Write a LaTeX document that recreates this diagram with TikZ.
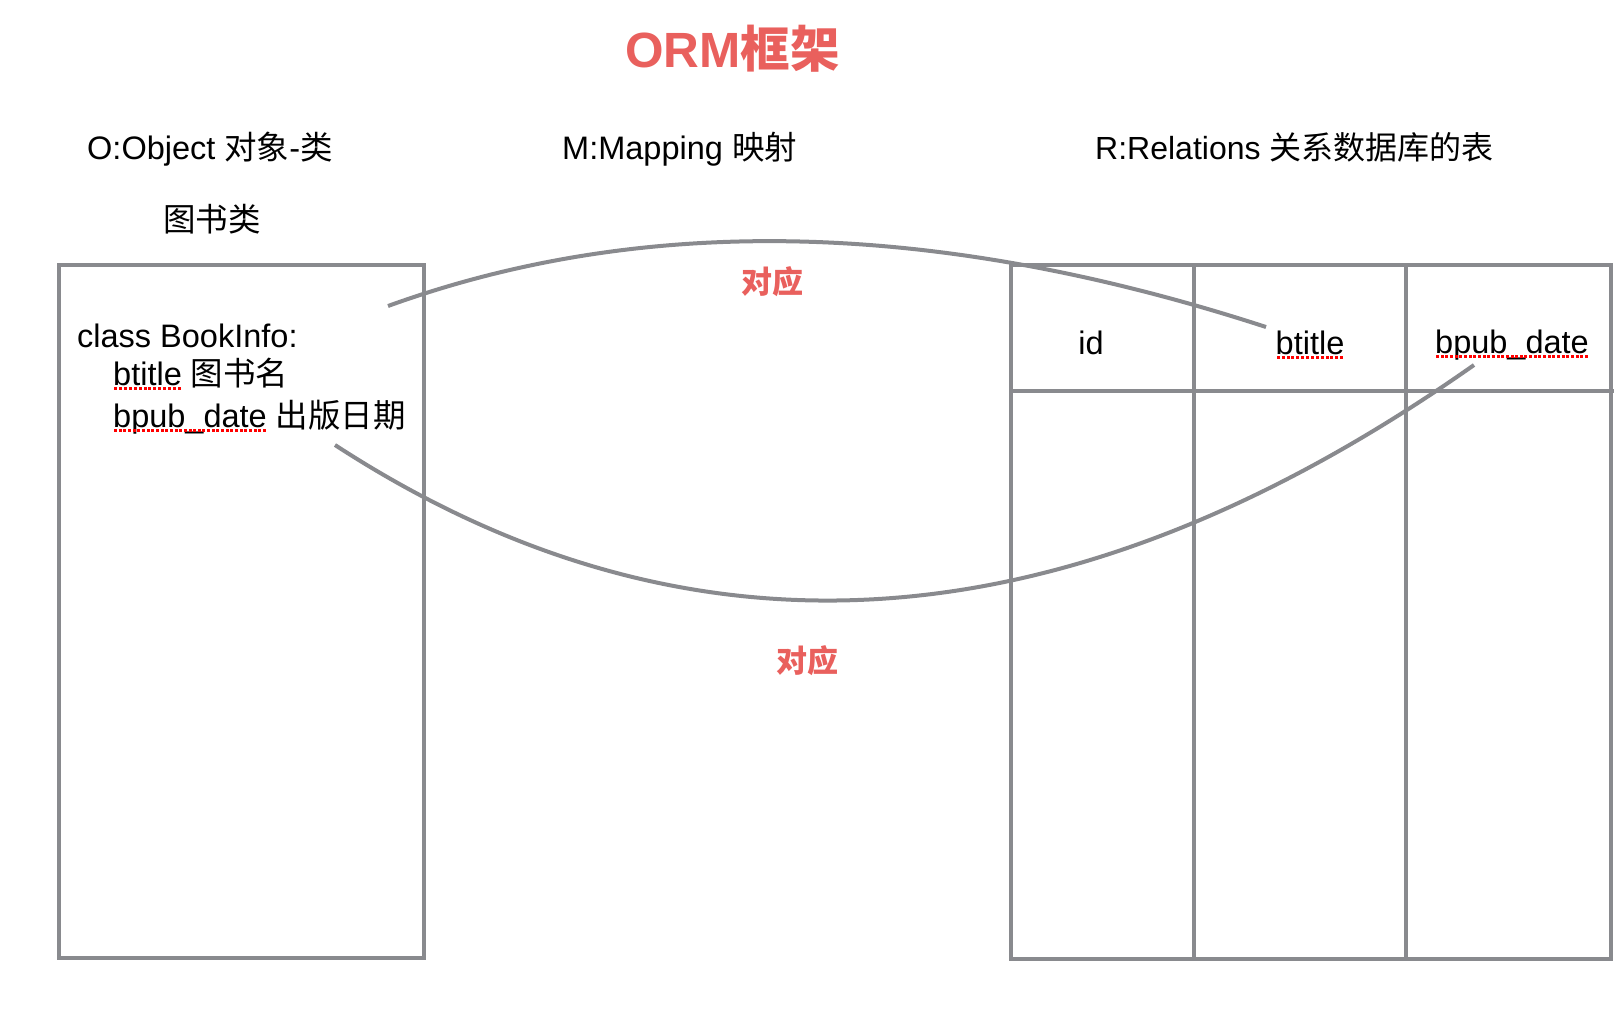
\documentclass[tikz,border=0pt]{standalone}
\usepackage{fontspec}
\setmainfont{Liberation Sans}
\newfontfamily\cjk{Noto Sans CJK SC}
\definecolor{lnc}{RGB}{137,138,142}
\definecolor{ttlc}{RGB}{233,96,93}
\newsavebox\sqbox
\newcommand\sqg[1]{\sbox\sqbox{#1}\rlap{\usebox\sqbox}\raisebox{-4.5pt}{\color{red}\hbox to \wd\sqbox{\xleaders\hbox to 4.6pt{\hss\rule{3pt}{3pt}\hss}\hfill}}}
\begin{document}
\begin{tikzpicture}[x=1pt,y=-1pt,
  txt/.style={anchor=base west, inner sep=0, font=\fontsize{32.5}{38}\selectfont},
  ctxt/.style={anchor=base, inner sep=0, font=\fontsize{32.5}{38}\selectfont},
  redlbl/.style={anchor=base, inner sep=0, text=ttlc, font=\fontsize{31}{36}\selectfont\cjk\bfseries},
  titlelbl/.style={anchor=base west, inner sep=0, text=ttlc, font=\fontsize{49.5}{58}\selectfont\bfseries},
  boxln/.style={draw=lnc, line width=4pt, inner sep=0, outer sep=0, anchor=north west},
  gridln/.style={draw=lnc, line width=4pt},
  curveln/.style={draw=lnc, line width=4pt}]
\useasboundingbox (0,0) rectangle (1622,1010);
% title
\node[titlelbl] (title) at (625,67) {ORM{\cjk 框架}};
% headings
\node[txt] (hO) at (87,159) {O:Object {\cjk 对象}-{\cjk 类}};
\node[txt] (hM) at (562,159) {M:Mapping {\cjk 映射}};
\node[txt, font=\fontsize{32}{38}\selectfont] (hR) at (1095,159) {R:Relations {\cjk 关系数据库的表}};
\node[txt] (hcls) at (163,231) {\cjk 图书类};
% left class box
\node[boxln, minimum width=365pt, minimum height=693pt] (obj) at (59,265) {};
\node[txt] (l1) at (77,347) {class BookInfo:};
\node[txt] (l2) at (113,385) {\sqg{btitle} {\cjk 图书名}};
\node[txt] (l3) at (113,427) {\sqg{bpub\_date} {\cjk 出版日期}};
% table
\node[boxln, minimum width=600pt, minimum height=694pt] (tbl) at (1011,265) {};
\draw[gridln] (1194,263) -- (1194,959);
\draw[gridln] (1406,265) -- (1406,959);
\draw[gridln] (1011,391) -- (1614,391);
\node[ctxt] (cid) at (1091,354) {id};
\node[ctxt] (ctitle) at (1310,354) {\sqg{btitle}};
\node[ctxt] (cdate) at (1512,353) {\sqg{bpub\_date}};
% mapping curves
\coordinate (a1) at (388,306);
\coordinate (a2) at (1266,327);
\draw[curveln] (a1) .. controls (645,213) and (937,220) .. (a2);
\coordinate (b1) at (335,445);
\coordinate (b2) at (1474,365);
\draw[curveln] (b1) .. controls (690,676) and (1069,650) .. (b2);
\node[redlbl] (m1) at (772,293) {对应};
\node[redlbl] (m2) at (807,672) {对应};
\end{tikzpicture}
\end{document}
